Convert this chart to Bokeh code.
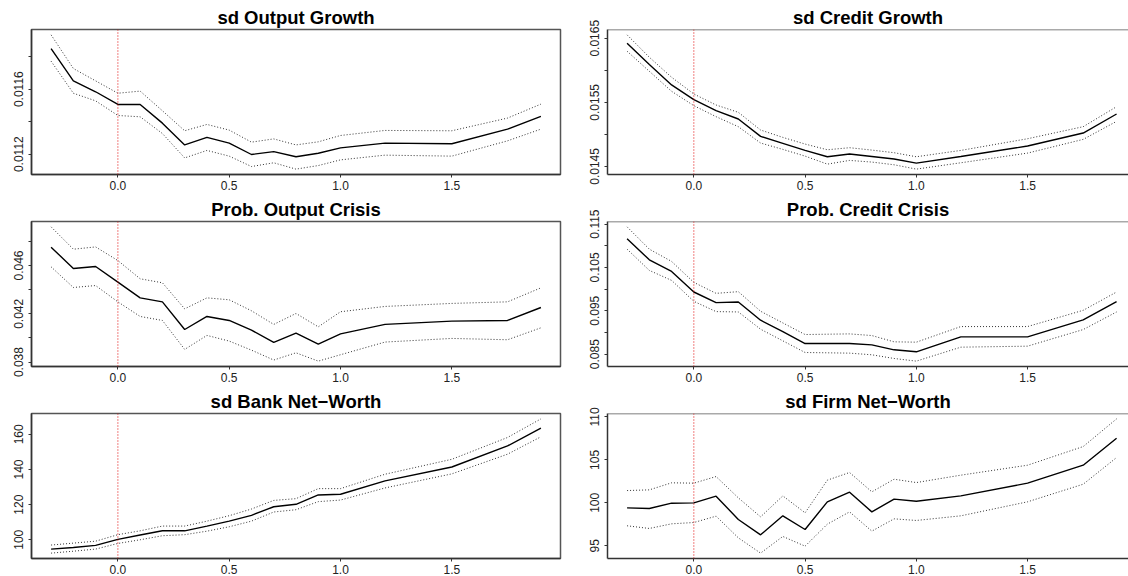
from bokeh.plotting import figure
from bokeh.layouts import gridplot
from bokeh.models import Range1d, FixedTicker, Span
from bokeh.embed import file_html
from bokeh.resources import INLINE

# Shock size (x axis) shared by every panel
shock = [-0.3, -0.2, -0.1, 0.0, 0.1, 0.2, 0.3, 0.4, 0.5, 0.6, 0.7, 0.8, 0.9,
         1.0, 1.2, 1.5, 1.75, 1.9]
x_ticks = [0.0, 0.5, 1.0, 1.5]

# sd Output Growth
out_sd_mean = [0.011850, 0.011651, 0.011584, 0.011506, 0.011506, 0.011391, 0.011257,
               0.011303, 0.011268, 0.011198, 0.011216, 0.011184, 0.011206, 0.011239,
               0.011268, 0.011264, 0.011354, 0.011432]
out_sd_hi = [0.011934, 0.011727, 0.011651, 0.011575, 0.011588, 0.011467, 0.011344,
             0.011383, 0.011348, 0.011274, 0.011294, 0.011257, 0.011276, 0.011315,
             0.011346, 0.011344, 0.011422, 0.011508]
out_sd_lo = [0.011772, 0.011575, 0.011528, 0.011438, 0.011430, 0.011327, 0.011177,
             0.011223, 0.011188, 0.011124, 0.011147, 0.011108, 0.011130, 0.011165,
             0.011194, 0.011188, 0.011282, 0.011354]
out_sd_ticks = [0.0112, 0.0114, 0.0116, 0.0118]
out_sd_labels = {0.0112: "0.0112", 0.0114: "", 0.0116: "0.0116", 0.0118: ""}

# sd Credit Growth
cred_sd_mean = [0.016422, 0.016089, 0.015771, 0.015542, 0.015370, 0.015240, 0.014969,
                0.014859, 0.014750, 0.014651, 0.014693, 0.014656, 0.014615, 0.014552,
                0.014656, 0.014818, 0.015021, 0.015318]
cred_sd_hi = [0.016552, 0.016203, 0.015891, 0.015630, 0.015458, 0.015344, 0.015068,
              0.014953, 0.014849, 0.014760, 0.014792, 0.014755, 0.014714, 0.014651,
              0.014750, 0.014932, 0.015120, 0.015432]
cred_sd_lo = [0.016297, 0.015984, 0.015672, 0.015448, 0.015276, 0.015120, 0.014865,
              0.014766, 0.014661, 0.014536, 0.014594, 0.014568, 0.014526, 0.014458,
              0.014557, 0.014708, 0.014922, 0.015203]
cred_sd_ticks = [0.0145, 0.0150, 0.0155, 0.0160, 0.0165]
cred_sd_labels = {0.0145: "0.0145", 0.0150: "", 0.0155: "0.0155", 0.0160: "", 0.0165: "0.0165"}

# Prob. Output Crisis
out_pc_mean = [0.04752, 0.04575, 0.04592, 0.04462, 0.04332, 0.04299, 0.04070, 0.04178,
               0.04145, 0.04065, 0.03963, 0.04040, 0.03949, 0.04034, 0.04112, 0.04139,
               0.04145, 0.04252]
out_pc_hi = [0.04920, 0.04735, 0.04754, 0.04641, 0.04490, 0.04457, 0.04241, 0.04332,
             0.04316, 0.04225, 0.04112, 0.04203, 0.04092, 0.04217, 0.04261, 0.04286,
             0.04299, 0.04415]
out_pc_lo = [0.04589, 0.04418, 0.04434, 0.04299, 0.04178, 0.04145, 0.03905, 0.04021,
             0.03974, 0.03899, 0.03817, 0.03877, 0.03808, 0.03861, 0.03966, 0.03996,
             0.03985, 0.04084]
out_pc_ticks = [0.038, 0.040, 0.042, 0.044, 0.046, 0.048]
out_pc_labels = {0.038: "0.038", 0.040: "", 0.042: "0.042", 0.044: "", 0.046: "0.046", 0.048: ""}

# Prob. Credit Crisis
cred_pc_mean = [0.11160, 0.10676, 0.10408, 0.09933, 0.09688, 0.09703, 0.09282, 0.09021,
                0.08745, 0.08745, 0.08745, 0.08715, 0.08600, 0.08554, 0.08898, 0.08898,
                0.09289, 0.09711]
cred_pc_hi = [0.11435, 0.10921, 0.10638, 0.10155, 0.09902, 0.09941, 0.09489, 0.09220,
              0.08952, 0.08960, 0.08967, 0.08929, 0.08784, 0.08776, 0.09136, 0.09136,
              0.09511, 0.09933]
cred_pc_lo = [0.10921, 0.10431, 0.10201, 0.09718, 0.09481, 0.09473, 0.09075, 0.08807,
              0.08538, 0.08531, 0.08523, 0.08485, 0.08400, 0.08339, 0.08661, 0.08684,
              0.09067, 0.09473]
cred_pc_ticks = [0.085, 0.090, 0.095, 0.100, 0.105, 0.110, 0.115]
cred_pc_labels = {0.085: "0.085", 0.090: "", 0.095: "0.095", 0.100: "", 0.105: "0.105",
                  0.110: "", 0.115: "0.115"}

# sd Bank Net-Worth
bank_mean = [94.7, 95.6, 96.8, 100.2, 102.7, 105.1, 105.1, 107.8, 110.6, 113.9, 118.8,
             120.2, 125.5, 125.9, 133.5, 141.4, 153.4, 163.5]
bank_hi = [97.0, 98.1, 99.2, 102.9, 105.1, 107.8, 107.8, 110.6, 113.7, 117.5, 122.4,
           123.4, 129.1, 129.1, 137.3, 145.8, 158.2, 168.8]
bank_lo = [92.4, 93.5, 94.7, 97.9, 100.0, 102.3, 102.9, 104.9, 107.4, 110.6, 115.8,
           117.1, 121.7, 122.6, 129.5, 137.5, 148.7, 158.6]
bank_ticks = [100, 120, 140, 160]

# sd Firm Net-Worth
firm_mean = [99.42, 99.34, 99.96, 100.00, 100.78, 98.06, 96.28, 98.49, 96.90, 100.12,
             101.24, 98.95, 100.43, 100.19, 100.81, 102.29, 104.38, 107.52]
firm_hi = [101.43, 101.51, 102.33, 102.29, 103.06, 100.58, 98.37, 100.81, 98.84, 102.64,
           103.53, 101.28, 102.75, 102.36, 103.22, 104.38, 106.55, 109.77]
firm_lo = [97.33, 97.02, 97.56, 97.71, 98.45, 95.93, 94.15, 96.09, 94.96, 97.52, 98.95,
           96.71, 98.14, 97.95, 98.49, 100.12, 102.17, 105.27]
firm_ticks = [95, 100, 105, 110]

FONT = "Liberation Sans"
PX_PER_UNIT = 222.5   # horizontal scale shared by both columns


def padded(lo, hi):
    span = hi - lo
    return lo - 0.04 * span, hi + 0.04 * span


def panel(title, mean, hi, lo, yticks, ylabels, right_col):
    x0, x1 = padded(min(shock), max(shock))
    y0, y1 = padded(min(lo), max(hi))
    width, height = 564, 192
    left_border = 43 if right_col else 31
    right_border = 0 if right_col else 4
    frame_w = width - left_border - right_border
    x_end = x0 + frame_w / PX_PER_UNIT if right_col else x1

    p = figure(width=width, height=height, output_backend="svg", toolbar_location=None,
               x_range=Range1d(x0, x_end), y_range=Range1d(y0, y1),
               min_border_left=left_border, min_border_right=right_border,
               min_border_top=29, min_border_bottom=18)
    p.xgrid.visible = False
    p.ygrid.visible = False
    p.background_fill_color = "white"
    p.border_fill_color = "white"

    p.title.text = title
    p.title.align = "center"
    p.title.text_font = FONT
    p.title.text_font_size = "18.5px"
    p.title.text_font_style = "bold"
    p.title.text_color = "black"
    p.title.standoff = 3
    if right_col:
        p.title.offset = 4

    if right_col:
        p.outline_line_color = None
        p.add_layout(Span(location=y1, dimension="width", line_color="#555555",
                          line_width=1.5))
    else:
        p.outline_line_color = "#555555"
        p.outline_line_width = 1.5

    for ax in (p.xaxis[0], p.yaxis[0]):
        ax.axis_line_color = "#333333"
        ax.axis_line_width = 1.5
        ax.major_tick_line_color = "#333333"
        ax.major_tick_line_width = 1
        ax.major_tick_out = 3
        ax.major_tick_in = 0
        ax.minor_tick_line_color = None
        ax.major_label_text_font = FONT
        ax.major_label_text_font_size = "12px"
        ax.major_label_text_color = "#222222"

    p.xaxis.ticker = FixedTicker(ticks=x_ticks)
    p.xaxis.major_label_overrides = {t: f"{t:.1f}" for t in x_ticks}
    p.xaxis.major_label_standoff = 3

    p.yaxis.ticker = FixedTicker(ticks=yticks)
    if ylabels:
        p.yaxis.major_label_overrides = ylabels
    p.yaxis.major_label_orientation = "vertical"
    p.yaxis.major_label_standoff = 5

    # reference line at zero shock
    p.add_layout(Span(location=0, dimension="height", line_color="#e00000",
                      line_width=1, line_dash="1 2"))

    p.line(shock, hi, line_color="#333333", line_width=1, line_dash="1 2")
    p.line(shock, lo, line_color="#333333", line_width=1, line_dash="1 2")
    p.line(shock, mean, line_color="black", line_width=1.4)
    return p


p1 = panel("sd Output Growth", out_sd_mean, out_sd_hi, out_sd_lo,
           out_sd_ticks, out_sd_labels, False)
p2 = panel("sd Credit Growth", cred_sd_mean, cred_sd_hi, cred_sd_lo,
           cred_sd_ticks, cred_sd_labels, True)
p3 = panel("Prob. Output Crisis", out_pc_mean, out_pc_hi, out_pc_lo,
           out_pc_ticks, out_pc_labels, False)
p4 = panel("Prob. Credit Crisis", cred_pc_mean, cred_pc_hi, cred_pc_lo,
           cred_pc_ticks, cred_pc_labels, True)
p5 = panel("sd Bank Net\u2212Worth", bank_mean, bank_hi, bank_lo,
           bank_ticks, None, False)
p6 = panel("sd Firm Net\u2212Worth", firm_mean, firm_hi, firm_lo,
           firm_ticks, None, True)

grid = gridplot([[p1, p2], [p3, p4], [p5, p6]], toolbar_location=None)

open("out.html", "w").write(file_html(grid, INLINE))
